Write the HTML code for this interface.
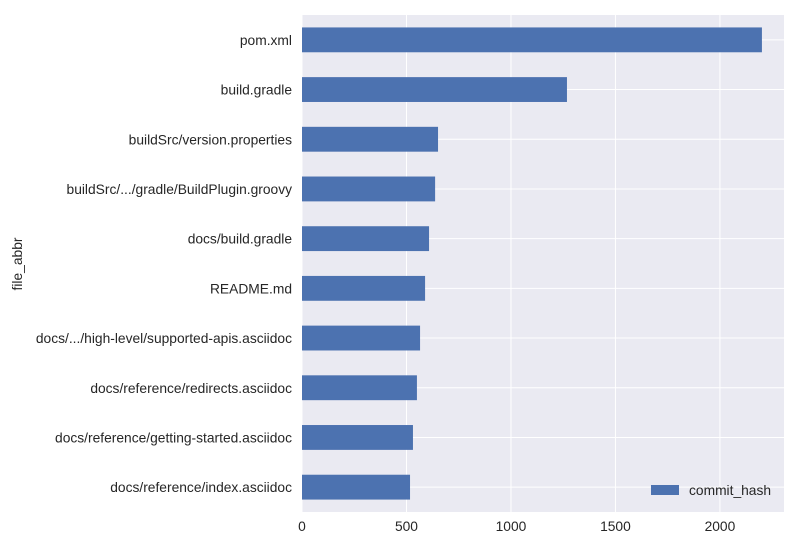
<!DOCTYPE html>
<html><head><meta charset="utf-8"><style>
body{margin:0;background:#fff;font-family:"Liberation Sans",Arial,sans-serif;}
svg text{font-family:"Liberation Sans",Arial,sans-serif;fill:#262626;}
</style></head><body>
<svg id="chart" width="800" height="550" xmlns="http://www.w3.org/2000/svg">
<rect x="302" y="15" width="482" height="497" fill="#eaeaf2"/>
<g id="grid"></g><g id="bars"></g><g id="labels"></g>
<text x="22" y="264" font-size="13.8" text-anchor="middle" transform="rotate(-90 22 264)">file_abbr</text>
<g>
<rect x="651" y="485" width="28" height="10" fill="#4c72b0"/>
<text x="689" y="495" font-size="13.8">commit_hash</text>
</g>
</svg>
<script>
const categories=["pom.xml","build.gradle","buildSrc/version.properties","buildSrc/.../gradle/BuildPlugin.groovy","docs/build.gradle","README.md","docs/.../high-level/supported-apis.asciidoc","docs/reference/redirects.asciidoc","docs/reference/getting-started.asciidoc","docs/reference/index.asciidoc"];
const values=[2201,1268,651,637,608,589,565,550,531,517];
const ticks=[0,500,1000,1500,2000];
const tickLabels=["0","500","1000","1500","2000"];
const NS="http://www.w3.org/2000/svg";
const L=302,R=784,T=15,B=512;
const xmax=Math.max(...values)*1.048;
const xs=v=>L+v/xmax*(R-L);
const band=(B-T)/categories.length;
const yc=i=>T+band*(i+0.5);
function mk(t,a,p){const e=document.createElementNS(NS,t);for(const k in a)e.setAttribute(k,a[k]);p.appendChild(e);return e;}
const grid=document.getElementById('grid'),bars=document.getElementById('bars'),labels=document.getElementById('labels');
ticks.forEach((t,i)=>{
 const g=mk('line',{x1:xs(t),x2:xs(t),y1:T,y2:B,stroke:'#fff','stroke-width':1},grid);
 
 
 const tx=mk('text',{x:xs(t),y:B+19,'font-size':13.8,'text-anchor':'middle'},labels);
 tx.textContent=tickLabels[i];
 
 
});
categories.forEach((c,i)=>{
 const g=mk('line',{x1:L,x2:R,y1:yc(i),y2:yc(i),stroke:'#fff','stroke-width':1},grid);
 
 
 const r=mk('rect',{x:L,y:yc(i)-band*0.25,width:xs(values[i])-L,height:band*0.5,fill:'#4c72b0'},bars);
 
 
 const tx=mk('text',{x:L-10,y:yc(i)+5,'font-size':13.8,'text-anchor':'end'},labels);
 tx.textContent=c;
 
 
});
</script>
</body></html>
